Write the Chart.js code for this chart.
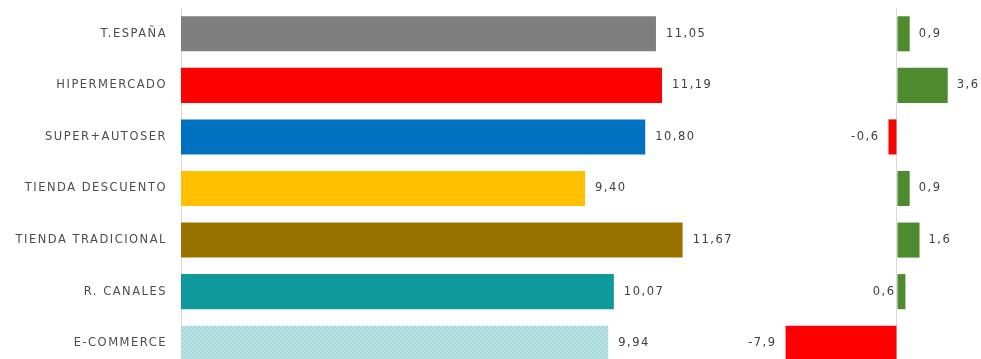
<!DOCTYPE html>
<html>
<head>
<meta charset="utf-8">
<script src="https://cdn.jsdelivr.net/npm/chart.js@4"></script>
<style>
  html, body { margin:0; padding:0; background:#fff; overflow:hidden; width:981px; height:359px; }
  #w1 { position:absolute; left:0; top:0; width:760px; height:380px; }
  #w2 { position:absolute; left:700px; top:0; width:281px; height:380px; }
</style>
</head>
<body>
<div id="w1"><canvas id="c1"></canvas></div>
<div id="w2"><canvas id="c2"></canvas></div>
<script>
const categories = ['T.ESPAÑA','HIPERMERCADO','SUPER+AUTOSER','TIENDA DESCUENTO','TIENDA TRADICIONAL','R. CANALES','E-COMMERCE'];
const priceValues = [11.05, 11.19, 10.80, 9.40, 11.67, 10.07, 9.94];
const changeValues = [0.9, 3.6, -0.6, 0.9, 1.6, 0.6, -7.9];

const FONT = '"DejaVu Sans", sans-serif';

function hatch() {
  const p = document.createElement('canvas');
  p.width = 4; p.height = 4;
  const g = p.getContext('2d');
  g.fillStyle = '#b9e2e3'; g.fillRect(0,0,4,4);
  g.fillStyle = '#a6d8da'; g.fillRect(0,0,2,2); g.fillRect(2,2,2,2);
  return g.createPattern(p, 'repeat');
}
const barColors = ['#7f7f7f','#ff0000','#0070c0','#ffc000','#997300','#0e9a9a', hatch()];

const fmt = v => v.toFixed(2).replace('.', ',');
const fmt1 = v => v.toFixed(1).replace('.', ',');

const spacingPlugin = {
  id: 'spacing',
  beforeDraw(chart) { chart.ctx.letterSpacing = '1.5px'; }
};

const labelPlugin = {
  id: 'vlabels',
  afterDatasetsDraw(chart, args, opts) {
    const ctx = chart.ctx;
    const meta = chart.getDatasetMeta(0);
    const data = chart.data.datasets[0].data;
    const leftOf = opts.leftOf || [];
    ctx.save();
    ctx.letterSpacing = '1.5px';
    ctx.font = '11.5px ' + FONT;
    ctx.fillStyle = '#404040';
    ctx.textBaseline = 'middle';
    meta.data.forEach((bar, i) => {
      const v = data[i];
      const txt = opts.decimals === 2 ? fmt(v) : fmt1(v);
      if (v < 0) {
        ctx.textAlign = 'right';
        ctx.fillText(txt, Math.min(bar.x, bar.base) - 9, bar.y);
      } else if (leftOf.includes(i)) {
        ctx.textAlign = 'right';
        ctx.fillText(txt, bar.base - 2, bar.y);
      } else {
        ctx.textAlign = 'left';
        ctx.fillText(txt, bar.x + (opts.gap || 10), bar.y);
      }
    });
    ctx.restore();
  }
};

new Chart(document.getElementById('c1'), {
  type: 'bar',
  data: {
    labels: categories,
    datasets: [{ data: priceValues, backgroundColor: barColors, barPercentage: 0.68, categoryPercentage: 1 }]
  },
  options: {
    indexAxis: 'y', responsive: true, maintainAspectRatio: false, animation: false,
    layout: { padding: { top: 8, bottom: 11, left: 0, right: 0 } },
    plugins: { legend: { display: false }, tooltip: { enabled: false }, vlabels: { decimals: 2, gap: 10 } },
    scales: {
      x: { display: false, min: 0, max: 13.47 },
      y: {
        afterFit: s => { s.width = 181; s.paddingTop = 0; s.paddingBottom = 0; },
        grid: { display: false, drawTicks: false },
        border: { display: true, color: '#d9d9d9', width: 1 },
        ticks: { padding: 14, color: '#4d4d4d', font: { family: FONT, size: 11.5 } }
      }
    }
  },
  plugins: [spacingPlugin, labelPlugin]
});

new Chart(document.getElementById('c2'), {
  type: 'bar',
  data: {
    labels: categories,
    datasets: [{
      data: changeValues,
      backgroundColor: changeValues.map(v => v < 0 ? '#ff0000' : '#4e8a2e'),
      barPercentage: 0.68, categoryPercentage: 1
    }]
  },
  options: {
    indexAxis: 'y', responsive: true, maintainAspectRatio: false, animation: false,
    layout: { padding: { top: 8, bottom: 11, left: 0, right: 0 } },
    plugins: { legend: { display: false }, tooltip: { enabled: false }, vlabels: { decimals: 1, gap: 9, leftOf: [5] } },
    scales: {
      x: {
        min: -13.97, max: 5.96,
        ticks: { display: false },
        border: { display: false },
        grid: { drawTicks: false, color: c => c.tick && c.tick.value === 0 ? '#d9d9d9' : 'transparent' },
        afterBuildTicks: s => { s.ticks = [{ value: 0 }]; }
      },
      y: { display: false }
    }
  },
  plugins: [labelPlugin]
});
</script>
</body>
</html>
